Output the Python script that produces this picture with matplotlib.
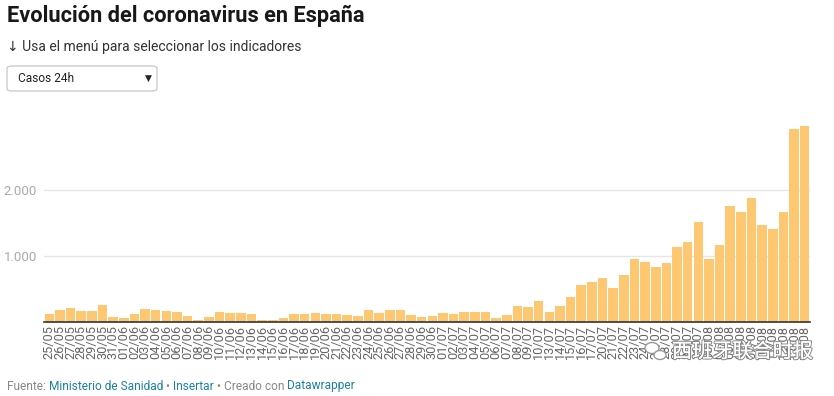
import matplotlib
matplotlib.use('Agg')
import matplotlib.pyplot as plt
import matplotlib.patheffects as pe
from matplotlib.patches import FancyBboxPatch, Ellipse

# datos: casos nuevos en 24h
fechas = ['25/05', '26/05', '27/05', '28/05', '29/05', '30/05', '31/05',
          '01/06', '02/06', '03/06', '04/06', '05/06', '06/06', '07/06', '08/06',
          '09/06', '10/06', '11/06', '12/06', '13/06', '14/06', '15/06', '16/06',
          '17/06', '18/06', '19/06', '20/06', '21/06', '22/06', '23/06', '24/06',
          '25/06', '26/06', '27/06', '28/06', '29/06', '30/06',
          '01/07', '02/07', '03/07', '04/07', '05/07', '06/07', '07/07', '08/07',
          '09/07', '10/07', '13/07', '14/07', '15/07', '16/07', '17/07', '20/07',
          '21/07', '22/07', '23/07', '24/07', '27/07', '28/07', '29/07', '30/07',
          '31/07', '03/08', '04/08', '05/08', '06/08', '07/08', '10/08', '11/08',
          '12/08', '13/08', '14/08']
casos = [126, 187, 217, 172, 172, 263, 81,
         66, 126, 202, 187, 172, 157, 96, 35,
         81, 157, 141, 141, 126, 35, 35, 66,
         126, 126, 141, 126, 126, 111, 96, 187,
         141, 187, 187, 106, 76, 91,
         136, 121, 152, 152, 152, 61, 106, 242,
         227, 318, 152, 242, 379, 561, 606, 667,
         515, 712, 955, 909, 833, 894, 1136, 1212,
         1515, 955, 1167, 1758, 1667, 1879, 1470, 1414,
         1667, 2924, 2970]
yticks = [1000, 2000]
ylabels = ['1.000', '2.000']

W, H = 834, 396
fig = plt.figure(figsize=(W / 100, H / 100), dpi=100)
plt.rcParams['font.family'] = ['Roboto', 'DejaVu Sans']

def fx(px):
    return px / W

def fy(py):
    return 1 - py / H

# zona del grafico
ax_top, ax_bot = 118, 322
ax = fig.add_axes([fx(44), fy(ax_bot), fx(810 - 44), (ax_bot - ax_top) / H])
x = range(len(casos))
ax.bar(x, casos, width=0.9, color='#fec872', zorder=2)
ax.set_xlim(-0.5, len(casos) - 0.5)
ax.set_ylim(0, (ax_bot - ax_top) / 66 * 1000)
ax.set_yticks(yticks)
ax.set_yticklabels(ylabels)
ax.set_xticks(list(x))
ax.set_xticklabels(fechas, rotation=90, fontsize=9.2, color='#666666')
ax.tick_params(axis='x', length=0, pad=2)
ax.tick_params(axis='y', length=0, pad=5, labelsize=9.5, labelcolor='#aaaaaa')
ax.grid(axis='y', color='#e6e6e6', linewidth=1, zorder=0)
for s in ['top', 'right', 'left']:
    ax.spines[s].set_visible(False)
ax.spines['bottom'].set_color('#333333')
ax.spines['bottom'].set_linewidth(1.2)
ax.spines['bottom'].set_zorder(3)
ax.set_facecolor('none')

# textos de cabecera
fig.text(fx(7), fy(16), 'Evolución del coronavirus en España', fontsize=15.7,
         fontweight='bold', color='#181818', va='center', ha='left')
fig.text(fx(7), fy(47), '↓ Usa el menú para seleccionar los indicadores',
         fontsize=10.0, color='#333333', va='center', ha='left',
         family=['Roboto', 'DejaVu Sans'])

# desplegable
box = FancyBboxPatch((fx(7), fy(91)), fx(150), (91 - 66) / H,
                     boxstyle='round,pad=0,rounding_size=0.006',
                     transform=fig.transFigure, facecolor='white',
                     edgecolor='#cccccc', linewidth=1)
fig.patches.append(box)
fig.text(fx(18), fy(78.5), 'Casos 24h', fontsize=8.6, color='#222222',
         va='center', ha='left')
fig.text(fx(148), fy(78.5), '▼', fontsize=6.5, color='#222222',
         va='center', ha='center', family=['DejaVu Sans'])

# marca de agua
wm = fig.text(fx(672), fy(352), '西班牙联合时报', fontsize=14.5, color='white',
              va='center', ha='left', family=['Noto Sans CJK SC', 'DejaVu Sans'])
wm.set_path_effects([pe.withStroke(linewidth=1.6, foreground='#8a8a8a'),
                     pe.Normal()])
for cx, cy, w, h in [(652, 348, 14, 11), (660, 355, 12, 9)]:
    fig.patches.append(Ellipse((fx(cx), fy(cy)), fx(w), h / H,
                               transform=fig.transFigure, facecolor='white',
                               edgecolor='#9a9a9a', linewidth=1))

# pie
partes = [('Fuente: ', '#888888'), ('Ministerio de Sanidad', '#1d81a2'),
          (' • ', '#888888'), ('Insertar', '#1d81a2'),
          (' • Creado con ', '#888888'), ('Datawrapper', '#1d81a2')]
fig.canvas.draw()
r = fig.canvas.get_renderer()
xpos = 7
for txt, col in partes:
    t = fig.text(fx(xpos), fy(386), txt, fontsize=8.6, color=col,
                 va='center', ha='left')
    bb = t.get_window_extent(renderer=r)
    xpos += bb.width

fig.savefig('out.png', dpi=100)
